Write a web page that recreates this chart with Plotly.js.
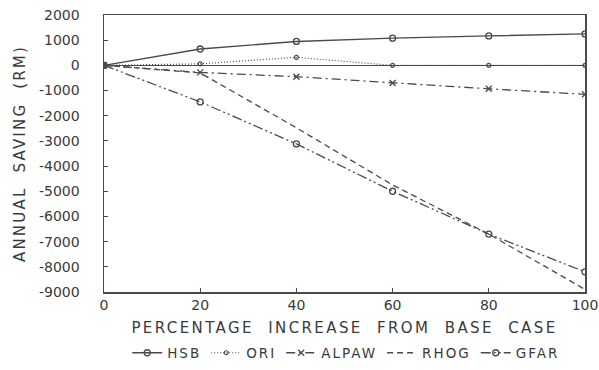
<!DOCTYPE html>
<html>
<head>
<meta charset="utf-8">
<script src="https://cdn.plot.ly/plotly-3.0.1.min.js"></script>
<style>
html,body{margin:0;padding:0;background:#fff;}
#chart{width:599px;height:370px;}
.xtitle{letter-spacing:2.4px;}
.ytitle{letter-spacing:2.2px;}
.legendtext{letter-spacing:2px;}
</style>
</head>
<body>
<div id="chart"></div>
<script>
// Data
const pctIncrease = [0, 20, 40, 60, 80, 100];
const hsb   = [0, 650, 950, 1080, 1170, 1250];
const ori   = [0, 60, 320, 0, 0, 0];
const alpaw = [0, -280, -450, -700, -930, -1150];
const rhog  = [0, -300, -2480, -4750, -6700, -8900];
const gfar  = [0, -1450, -3120, -5000, -6700, -8200];
const yTickVals = [2000, 1000, 0, -1000, -2000, -3000, -4000, -5000, -6000, -7000, -8000, -9000];
const yTickText = ["2000", "1000", "0", "-1000", "-2000", "-3000", "-4000", "-5000", "-6000", "-7000", "-8000", "-9000"];
const xTickVals = [0, 20, 40, 60, 80, 100];
const xTickText = ["0", "20", "40", "60", "80", "100"];

const ink = "#4a4a4a";
const font = "DejaVu Sans, sans-serif";

const traces = [
  {name: "HSB", x: pctIncrease, y: hsb, mode: "lines+markers",
   line: {color: ink, width: 1.4, dash: "solid"},
   marker: {symbol: "circle-open", size: 6, color: ink, line: {width: 1.3}}},
  {name: "ORI", x: pctIncrease, y: ori, mode: "lines+markers",
   line: {color: ink, width: 1.2, dash: "1px,2px"},
   marker: {symbol: "circle-open", size: 4, color: ink, line: {width: 1.2}}},
  {name: "ALPAW", x: pctIncrease, y: alpaw, mode: "lines+markers",
   line: {color: ink, width: 1.3, dash: "9px,4px,2px,4px"},
   marker: {symbol: "x-thin-open", size: 6, color: ink, line: {width: 1.3, color: ink}}},
  {name: "RHOG", x: pctIncrease, y: rhog, mode: "lines",
   line: {color: ink, width: 1.3, dash: "6px,4px"}},
  {name: "GFAR", x: pctIncrease, y: gfar, mode: "lines+markers",
   line: {color: ink, width: 1.3, dash: "10px,3px,2px,3px,2px,3px"},
   marker: {symbol: "circle-open", size: 6, color: ink, line: {width: 1.3}}}
];

const layout = {
  width: 599, height: 370,
  margin: {l: 104, r: 14, t: 15, b: 78, pad: 0, autoexpand: false},
  paper_bgcolor: "#ffffff", plot_bgcolor: "#ffffff",
  font: {family: font, color: "#3a3a3a", size: 13},
  showlegend: true,
  legend: {orientation: "h", x: 0.578, xanchor: "center", xref: "container",
           y: 0.046, yanchor: "middle", yref: "container",
           font: {family: font, size: 13.5, color: "#3a3a3a"}, itemwidth: 30,
           tracegroupgap: 0, bgcolor: "rgba(0,0,0,0)"},
  xaxis: {
    automargin: false,
    range: [0, 100], tickvals: xTickVals, ticktext: xTickText,
    showgrid: false, zeroline: false,
    showline: true, mirror: true, linecolor: ink, linewidth: 1.5,
    ticks: "inside", ticklen: 4, tickcolor: ink,
    ticklabeloverflow: "allow", ticklabelstandoff: 0,
    tickfont: {family: font, size: 14, color: "#3a3a3a"},
    title: {text: "PERCENTAGE  INCREASE  FROM  BASE  CASE", standoff: 12,
            font: {family: font, size: 15, color: "#3a3a3a"}}
  },
  yaxis: {
    automargin: false,
    range: [-9000, 2000], tickvals: yTickVals, ticktext: yTickText,
    showgrid: false, zeroline: true, zerolinecolor: ink, zerolinewidth: 1.4,
    showline: true, mirror: true, linecolor: ink, linewidth: 1.5,
    ticks: "inside", ticklen: 4, tickcolor: ink,
    ticklabelstandoff: 20,
    tickfont: {family: font, size: 14, color: "#3a3a3a"},
    title: {text: "ANNUAL  SAVING  (RM)", standoff: 10,
            font: {family: font, size: 15, color: "#3a3a3a"}}
  }
};

Plotly.newPlot("chart", traces, layout, {displayModeBar: false, staticPlot: true});
</script>
</body>
</html>
